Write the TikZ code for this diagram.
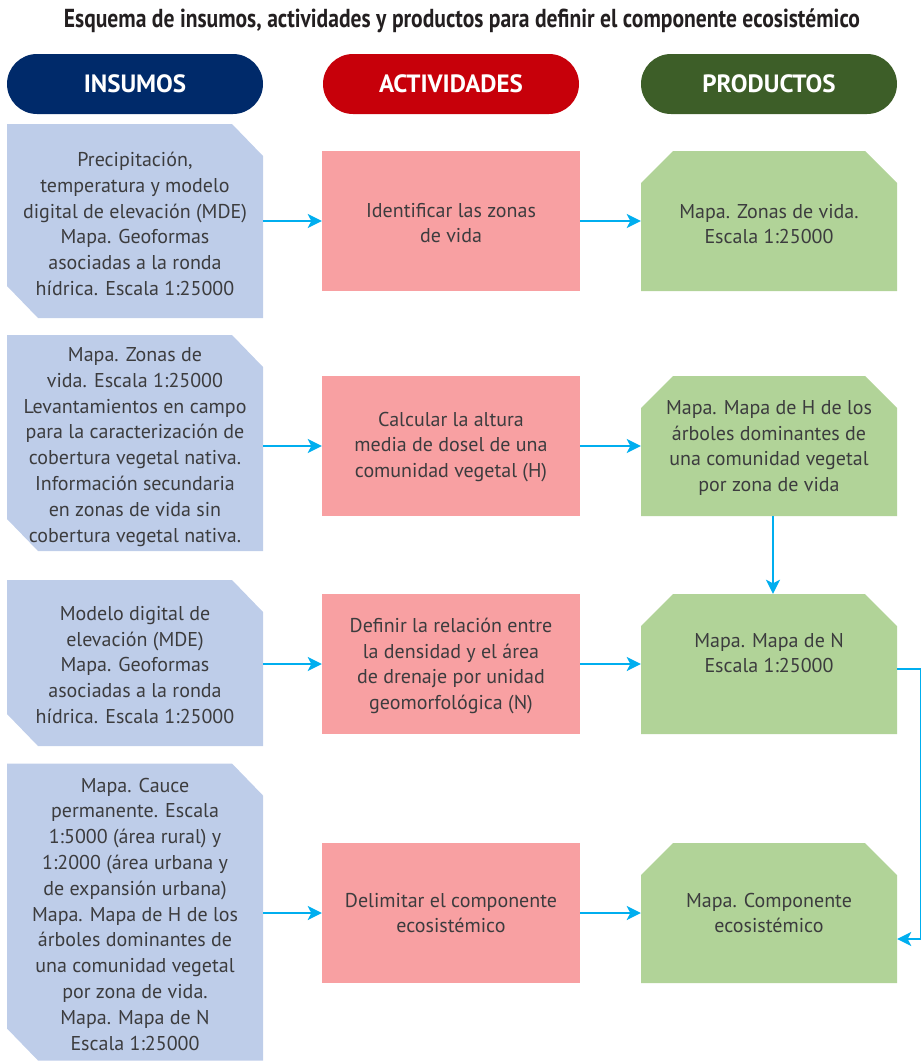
\documentclass[tikz,border=0pt]{standalone}
\usepackage{fontspec}
\setmainfont{PT Sans}
\newfontfamily\titlefont[FakeStretch=0.83]{PT Sans}
\usetikzlibrary{arrows.meta}
\definecolor{navy}{RGB}{0,42,106}
\definecolor{hred}{RGB}{199,0,10}
\definecolor{hgreen}{RGB}{61,94,40}
\definecolor{inblue}{RGB}{190,205,233}
\definecolor{actpink}{RGB}{248,160,162}
\definecolor{prgreen}{RGB}{177,211,152}
\definecolor{arrowc}{RGB}{0,174,239}
\definecolor{txt}{RGB}{60,60,62}
\definecolor{ttl}{RGB}{35,31,32}
\tikzset{
  hdr/.style={rounded corners=30pt, minimum width=256pt, minimum height=60pt, inner sep=0pt,
    text=white, font=\fontsize{25}{28}\selectfont\bfseries},
  inbox/.style={minimum width=256pt, inner sep=0pt,
    path picture={\fill[inblue] (path picture bounding box.north west)
      -- ([xshift=-31pt]path picture bounding box.north east)
      -- ([yshift=-32pt]path picture bounding box.north east)
      -- (path picture bounding box.south east)
      -- ([xshift=31pt]path picture bounding box.south west)
      -- ([yshift=32pt]path picture bounding box.south west) -- cycle;}},
  actbox/.style={minimum width=258pt, minimum height=140pt, inner sep=0pt, fill=actpink},
  prbox/.style={minimum width=256pt, minimum height=140pt, inner sep=0pt,
    path picture={\fill[prgreen] ([yshift=-32pt]path picture bounding box.north west)
      -- ([xshift=32pt]path picture bounding box.north west)
      -- ([xshift=-32pt]path picture bounding box.north east)
      -- ([yshift=-32pt]path picture bounding box.north east)
      -- (path picture bounding box.south east)
      -- (path picture bounding box.south west) -- cycle;}},
  lbl/.style={align=center, text=txt, inner sep=0pt, font=\fontsize{20}{25.8}\selectfont},
  conn/.style={draw=arrowc, line width=2.4pt, -{Stealth[length=14pt,width=14pt,inset=3.5pt]}},
  connb/.style={draw=arrowc, line width=2pt, -{Stealth[length=14pt,width=14pt,inset=3.5pt]}},
}
\begin{document}
\begin{tikzpicture}[x=1pt,y=-1pt]
\path[use as bounding box] (0,0) rectangle (921,1061);
\node[anchor=base, text=ttl, font=\titlefont\bfseries\fontsize{26}{30}\selectfont] (title) at (462,27)
  {Esquema de insumos, actividades y productos para definir el componente ecosistémico};
% headers
\node[hdr, fill=navy] (h1) at (135,84) {INSUMOS};
\node[hdr, fill=hred] (h2) at (451,84) {ACTIVIDADES};
\node[hdr, fill=hgreen] (h3) at (769,84) {PRODUCTOS};
% insumos
\node[inbox, minimum height=194pt] (i1) at (135,221) {};
\node[inbox, minimum height=216pt] (i2) at (135,443) {};
\node[inbox, minimum height=166pt] (i3) at (135,663) {};
\node[inbox, minimum height=297pt] (i4) at (135,912) {};
\node[lbl] (i1t) at (135,224) {Precipitación,\\temperatura y modelo\\digital de elevación (MDE)\\Mapa. Geoformas\\asociadas a la ronda\\hídrica. Escala 1:25000};
\node[lbl] (i2t) at (135,447) {Mapa. Zonas de\\vida. Escala 1:25000\\Levantamientos en campo\\para la caracterización de\\cobertura vegetal nativa.\\Información secundaria\\en zonas de vida sin\\cobertura vegetal nativa.};
\node[lbl] (i3t) at (135,665) {Modelo digital de\\elevación (MDE)\\Mapa. Geoformas\\asociadas a la ronda\\hídrica. Escala 1:25000};
\node[lbl] (i4t) at (135,914) {Mapa. Cauce\\permanente. Escala\\1:5000 (área rural) y\\1:2000 (área urbana y\\de expansión urbana)\\Mapa. Mapa de H de los\\árboles dominantes de\\una comunidad vegetal\\por zona de vida.\\Mapa. Mapa de N\\Escala 1:25000};
% actividades
\node[actbox] (a1) at (451,221) {};
\node[actbox] (a2) at (451,446) {};
\node[actbox] (a3) at (451,664) {};
\node[actbox] (a4) at (451,913) {};
\node[lbl] (a1t) at (451,223) {Identificar las zonas\\de vida};
\node[lbl] (a2t) at (451,447) {Calcular la altura\\media de dosel de una\\comunidad vegetal (H)};
\node[lbl] (a3t) at (451,666) {Definir la relación entre\\la densidad y el área\\de drenaje por unidad\\geomorfológica (N)};
\node[lbl] (a4t) at (451,913) {Delimitar el componente\\ecosistémico};
% productos
\node[prbox] (p1) at (769,221) {};
\node[prbox] (p2) at (769,446) {};
\node[prbox] (p3) at (769,664) {};
\node[prbox] (p4) at (769,913) {};
\node[lbl] (p1t) at (769,224) {Mapa. Zonas de vida.\\Escala 1:25000};
\node[lbl] (p2t) at (769,448) {Mapa. Mapa de H de los\\árboles dominantes de\\una comunidad vegetal\\por zona de vida};
\node[lbl] (p3t) at (769,653) {Mapa. Mapa de N\\Escala 1:25000};
\node[lbl] (p4t) at (769,913) {Mapa. Componente\\ecosistémico};
% connectors
\draw[conn] (i1.east) -- (a1.west);
\draw[conn] (i2.east |- a2.west) -- (a2.west);
\draw[conn] (i3.east |- a3.west) -- (a3.west);
\draw[conn] (i4.east |- a4.west) -- (a4.west);
\draw[conn] (a1.east) -- (p1.west);
\draw[conn] (a2.east) -- (p2.west);
\draw[conn] (a3.east) -- (p3.west);
\draw[conn] (a4.east) -- (p4.west);
\draw[conn] ([xshift=4pt]p2.south) -- ([xshift=4pt]p3.north);
\draw[connb] ([yshift=-5pt]p3.east) -- ++(23.5,0) |- ([yshift=-26pt]p4.east);
\end{tikzpicture}
\end{document}
